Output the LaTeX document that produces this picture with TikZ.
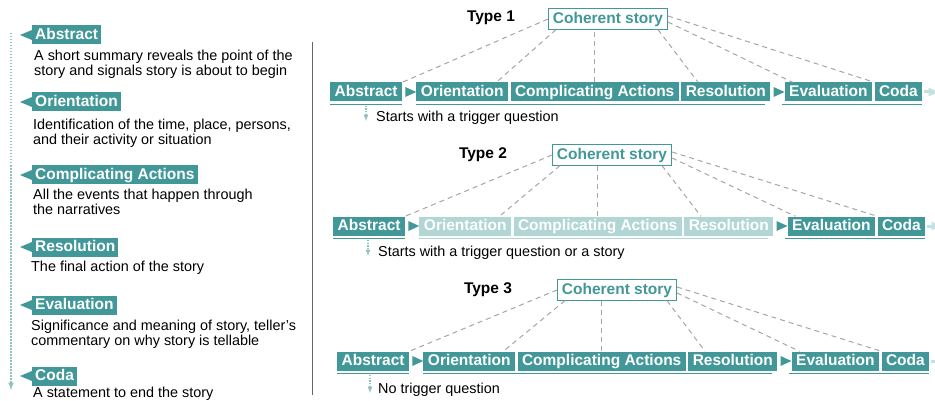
\documentclass[tikz,border=0pt]{standalone}
\usepackage{fontspec}
\setmainfont{Liberation Sans}
\usetikzlibrary{positioning}
\definecolor{tealbox}{RGB}{66,152,152}
\definecolor{tealpale}{RGB}{178,214,214}
\definecolor{tealtail}{RGB}{196,224,224}
\definecolor{dashgray}{RGB}{165,165,165}
\begin{document}
\begin{tikzpicture}[x=1pt,y=-1pt,
    part/.style={fill=tealbox, text=white, font=\fontsize{15.5}{16}\selectfont\bfseries,
      inner xsep=4.5pt, inner ysep=2.25pt, text height=11.5pt, text depth=3pt},
    partfaded/.style={part, fill=tealpale},
    label/.style={part, inner xsep=3pt, anchor=west},
    cs/.style={draw=tealbox, line width=0.8pt, fill=white, text=tealbox,
      font=\fontsize{15.5}{16}\selectfont\bfseries, inner xsep=4.5pt, inner ysep=3pt,
      text height=11.5pt, text depth=3pt},
    typelabel/.style={font=\fontsize{15.5}{16}\selectfont\bfseries},
    desc/.style={font=\fontsize{14.4}{14.5}\selectfont, align=left, inner sep=0pt, anchor=north west},
    note/.style={font=\fontsize{14.4}{14.5}\selectfont, inner sep=0pt, anchor=west},
    link/.style={draw=dashgray, line width=1pt, dash pattern=on 5pt off 4pt},
    uline/.style={draw=tealbox, line width=1.1pt},
    hint/.style={draw=tealbox!60, line width=1.2pt, dash pattern=on 1.2pt off 1.6pt, -latex},
    tail/.style={draw=tealtail, line width=3pt, -latex}]
  \useasboundingbox (0,0) rectangle (935,401);
  % left panel: the six parts of a narrative
  \draw [draw=tealbox!60, line width=1.5pt, dash pattern=on 1.5pt off 1.5pt, -latex] (11,33)--(11,390);
  \node [label] (labs) at (32,35) {Abstract};
  \node [label] (lori) at (32,102) {Orientation};
  \node [label] (lca) at (32,175) {Complicating Actions};
  \node [label] (lres) at (32,247) {Resolution};
  \node [label] (leva) at (32,305) {Evaluation};
  \node [label] (lcoda) at (32,376) {Coda};
  \fill [tealbox] ([yshift=5pt]labs.west)--([xshift=-12pt]labs.west)--([yshift=-5pt]labs.west)--cycle;
  \fill [tealbox] ([yshift=5pt]lori.west)--([xshift=-12pt]lori.west)--([yshift=-5pt]lori.west)--cycle;
  \fill [tealbox] ([yshift=5pt]lca.west)--([xshift=-12pt]lca.west)--([yshift=-5pt]lca.west)--cycle;
  \fill [tealbox] ([yshift=5pt]lres.west)--([xshift=-12pt]lres.west)--([yshift=-5pt]lres.west)--cycle;
  \fill [tealbox] ([yshift=5pt]leva.west)--([xshift=-12pt]leva.west)--([yshift=-5pt]leva.west)--cycle;
  \fill [tealbox] ([yshift=5pt]lcoda.west)--([xshift=-12pt]lcoda.west)--([yshift=-5pt]lcoda.west)--cycle;
  \node [desc] (dabs) at (34,50) {A short summary reveals the point of the\\story and signals story is about to begin};
  \node [desc] (dori) at (33,119) {Identification of the time, place, persons,\\and their activity or situation};
  \node [desc] (dca) at (33,189) {All the events that happen through\\the narratives};
  \node [desc] (dres) at (31,261) {The final action of the story};
  \node [desc] (deva) at (31,320) {Significance and meaning of story, teller's\\commentary on why story is tellable};
  \node [desc] (dcoda) at (33,387) {A statement to end the story};
  \draw [draw=black!60, line width=0.8pt] (312,42)--(312,395);
  % type 1
  \node [typelabel] (type1) at (491,18) {Type 1};
  \node [cs] (cs1) at (608,19) {Coherent story};
  \node [part, anchor=west] (abs1) at (330,92) {Abstract};
  \node [part, right=14pt of abs1] (ori1) {Orientation};
  \node [part, right=2pt of ori1] (ca1) {Complicating Actions};
  \node [part, right=2pt of ca1] (res1) {Resolution};
  \node [part, right=14pt of res1] (eva1) {Evaluation};
  \node [part, right=2pt of eva1] (coda1) {Coda};
  \fill [tealbox] ([xshift=3pt,yshift=5pt]abs1.east)--(ori1.west)--([xshift=3pt,yshift=-5pt]abs1.east)--cycle;
  \fill [tealbox] ([xshift=3pt,yshift=5pt]res1.east)--(eva1.west)--([xshift=3pt,yshift=-5pt]res1.east)--cycle;
  \draw [uline] ([yshift=-3pt]abs1.south west)--([yshift=-3pt]abs1.south east);
  \draw [uline] ([yshift=-3pt]ori1.south west)--([xshift=-6pt,yshift=-3pt]res1.south east);
  \draw [uline] ([xshift=-3pt,yshift=-3pt]eva1.south west)--([yshift=-3pt]coda1.south east);
  \draw [tail] ([xshift=2pt]coda1.east)--++(16pt,0pt);
  \draw [link] (cs1.west)--(abs1.north east);
  \draw [link] ([xshift=8pt]cs1.south west)--([xshift=-12pt]ori1.north east);
  \draw [link] (ca1.north)--(ca1.north |- cs1.south);
  \draw [link] ([xshift=-10pt]cs1.south east)--([xshift=17pt]res1.north west);
  \draw [link] ([yshift=-3pt]cs1.east)--([xshift=8pt]eva1.north west);
  \draw [link] ([yshift=3pt]cs1.east)--(coda1.north west);
  \node [note] (note1) at ([xshift=46pt,yshift=-26pt]abs1.west) {Starts with a trigger question};
  \coordinate (hint1) at ([xshift=-10pt,yshift=-3pt]note1.west);
  \draw [hint] ([yshift=-4pt]hint1 |- abs1.south)--(hint1);
  % type 2
  \node [typelabel] (type2) at (483,155) {Type 2};
  \node [cs] (cs2) at (612,155) {Coherent story};
  \node [part, anchor=west] (abs2) at (333,226) {Abstract};
  \node [partfaded, right=14pt of abs2] (ori2) {Orientation};
  \node [partfaded, right=2pt of ori2] (ca2) {Complicating Actions};
  \node [partfaded, right=2pt of ca2] (res2) {Resolution};
  \node [part, right=14pt of res2] (eva2) {Evaluation};
  \node [part, right=2pt of eva2] (coda2) {Coda};
  \fill [tealbox] ([xshift=3pt,yshift=5pt]abs2.east)--(ori2.west)--([xshift=3pt,yshift=-5pt]abs2.east)--cycle;
  \fill [tealbox] ([xshift=3pt,yshift=5pt]res2.east)--(eva2.west)--([xshift=3pt,yshift=-5pt]res2.east)--cycle;
  \draw [uline] ([yshift=-3pt]abs2.south west)--([yshift=-3pt]abs2.south east);
  \draw [uline, draw=tealpale] ([yshift=-3pt]ori2.south west)--([xshift=-6pt,yshift=-3pt]res2.south east);
  \draw [uline] ([xshift=-3pt,yshift=-3pt]eva2.south west)--([yshift=-3pt]coda2.south east);
  \draw [tail] ([xshift=2pt]coda2.east)--++(16pt,0pt);
  \draw [link] (cs2.west)--(abs2.north east);
  \draw [link] ([xshift=8pt]cs2.south west)--([xshift=-12pt]ori2.north east);
  \draw [link] (ca2.north)--(ca2.north |- cs2.south);
  \draw [link] ([xshift=-10pt]cs2.south east)--([xshift=17pt]res2.north west);
  \draw [link] ([yshift=-3pt]cs2.east)--([xshift=8pt]eva2.north west);
  \draw [link] ([yshift=3pt]cs2.east)--(coda2.north west);
  \node [note] (note2) at ([xshift=45pt,yshift=-27pt]abs2.west) {Starts with a trigger question or a story};
  \coordinate (hint2) at ([xshift=-10pt,yshift=-3pt]note2.west);
  \draw [hint] ([yshift=-4pt]hint2 |- abs2.south)--(hint2);
  % type 3
  \node [typelabel] (type3) at (488,290) {Type 3};
  \node [cs] (cs3) at (617,290) {Coherent story};
  \node [part, anchor=west] (abs3) at (337,361) {Abstract};
  \node [part, right=14pt of abs3] (ori3) {Orientation};
  \node [part, right=2pt of ori3] (ca3) {Complicating Actions};
  \node [part, right=2pt of ca3] (res3) {Resolution};
  \node [part, right=14pt of res3] (eva3) {Evaluation};
  \node [part, right=2pt of eva3] (coda3) {Coda};
  \fill [tealbox] ([xshift=3pt,yshift=5pt]abs3.east)--(ori3.west)--([xshift=3pt,yshift=-5pt]abs3.east)--cycle;
  \fill [tealbox] ([xshift=3pt,yshift=5pt]res3.east)--(eva3.west)--([xshift=3pt,yshift=-5pt]res3.east)--cycle;
  \draw [uline] ([yshift=-3pt]abs3.south west)--([yshift=-3pt]abs3.south east);
  \draw [uline] ([yshift=-3pt]ori3.south west)--([xshift=-6pt,yshift=-3pt]res3.south east);
  \draw [uline] ([xshift=-3pt,yshift=-3pt]eva3.south west)--([yshift=-3pt]coda3.south east);
  \draw [tail] ([xshift=2pt]coda3.east)--++(16pt,0pt);
  \draw [link] (cs3.west)--(abs3.north east);
  \draw [link] ([xshift=8pt]cs3.south west)--([xshift=-12pt]ori3.north east);
  \draw [link] (ca3.north)--(ca3.north |- cs3.south);
  \draw [link] ([xshift=-10pt]cs3.south east)--([xshift=17pt]res3.north west);
  \draw [link] ([yshift=-3pt]cs3.east)--([xshift=8pt]eva3.north west);
  \draw [link] ([yshift=3pt]cs3.east)--(coda3.north west);
  \node [note] (note3) at ([xshift=41pt,yshift=-29pt]abs3.west) {No trigger question};
  \coordinate (hint3) at ([xshift=-8pt,yshift=-3pt]note3.west);
  \draw [hint] ([yshift=-4pt]hint3 |- abs3.south)--(hint3);
\end{tikzpicture}
\end{document}
